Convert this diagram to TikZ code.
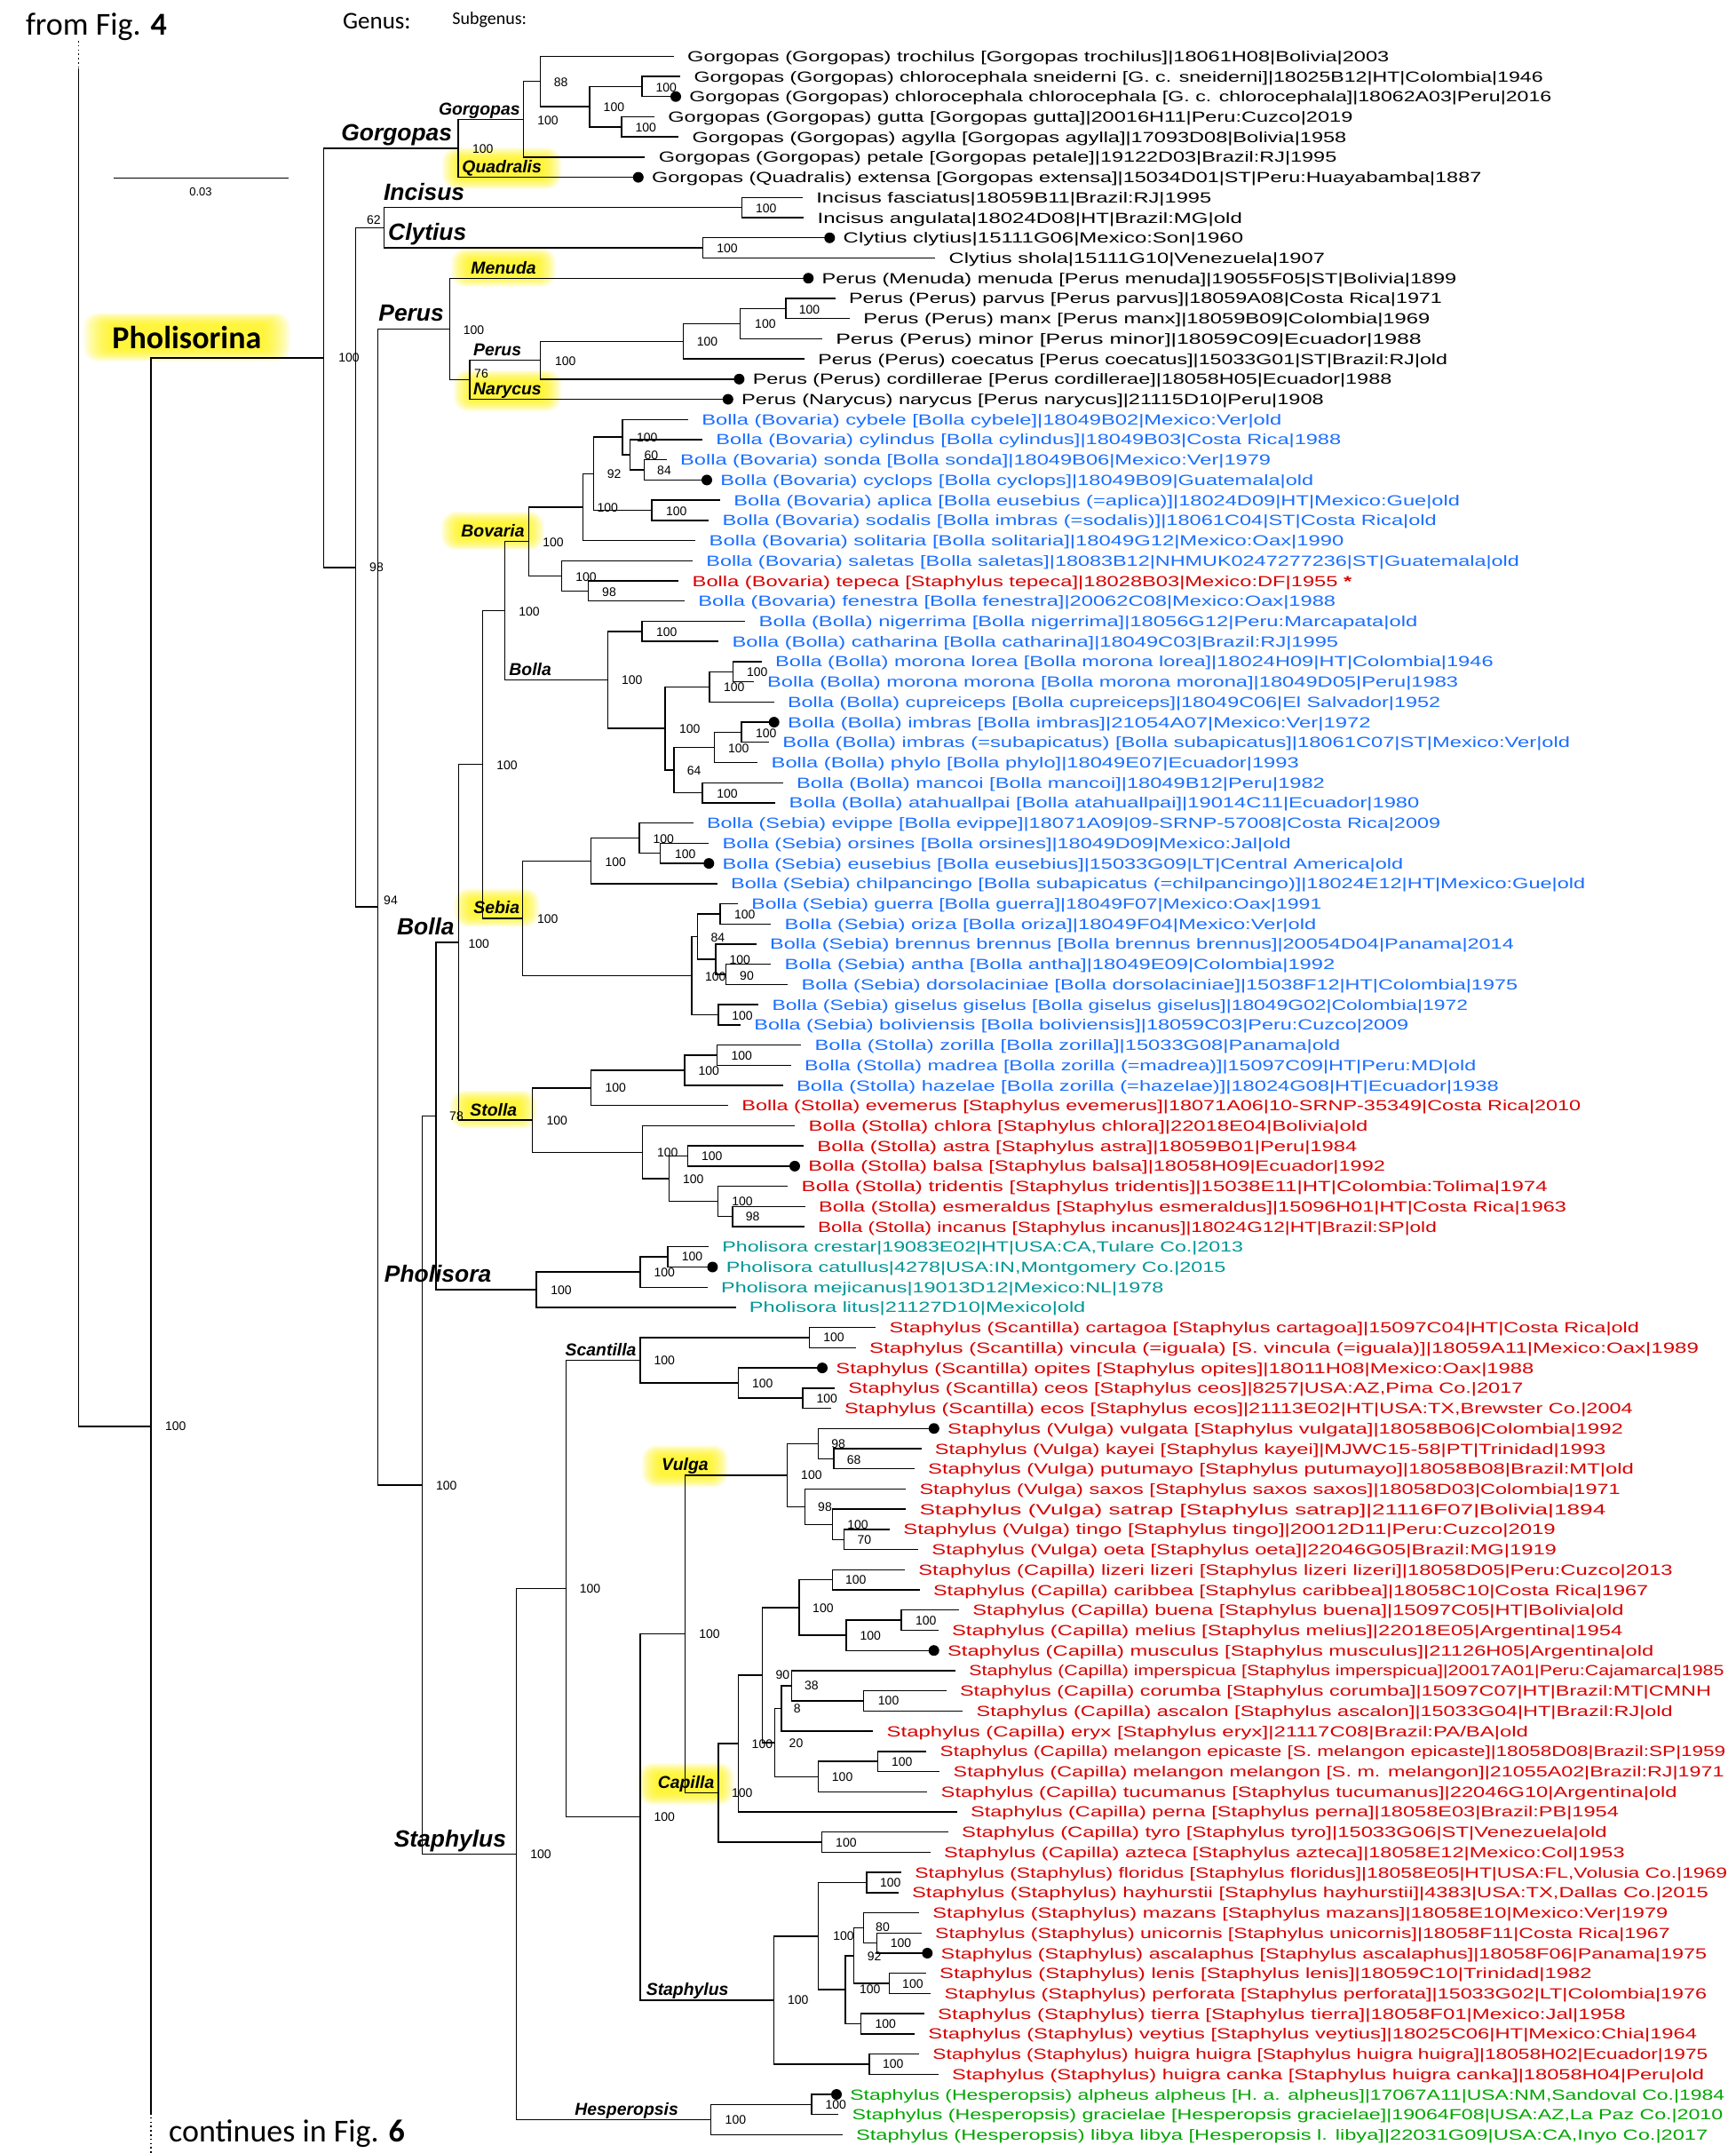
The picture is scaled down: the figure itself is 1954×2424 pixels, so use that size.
\documentclass[tikz,border=0pt]{standalone}
\usepackage{graphicx}
\usepackage{fontspec}
\setmainfont{Liberation Sans}
\newfontfamily\tipfont{Liberation Sans}
\newfontfamily\calfont{Carlito}
\usetikzlibrary{calc}
\pgfdeclarelayer{bg}
\pgfsetlayers{bg,main}
\definecolor{tblue}{RGB}{25,110,255}
\definecolor{tred}{RGB}{215,0,0}
\definecolor{tteal}{RGB}{0,150,150}
\definecolor{tgreen}{RGB}{0,165,0}
\newlength\tw
% #1 index, #2 branch end x, #3 colour, #4 right end of text, #5 text
\newcommand\tipL[5]{\pgfmathsetmacro\tyy{63.3+(#1-1)*22.72}%
  \coordinate (t#1) at (#2,\tyy);
  \node[tiplab,text=#3] (l#1) at ([xshift=7.5pt,yshift=-3pt]t#1) {\settowidth\tw{#5}\pgfmathsetmacro\tsc{((#4)-(#2)-15)*0.5/\tw}\scalebox{\tsc}[1]{#5}};}
\newcommand\tipD[5]{\tipL{#1}{#2}{#3}{#4}{#5}\fill (t#1) circle (3pt);}
\newcommand\inode[6]{\pgfmathsetmacro\tyy{63.3+(#3-1)*22.72}%
  \coordinate (#1) at (#2,\tyy);
  \node[supp] (s#1) at (#5,#6) {#4};}
\newcommand\glowbox[3]{\begin{pgfonlayer}{bg}\foreach \ii in {1,...,16}{%
  \fill[yellow,opacity=0.085,rounded corners=\ii*#3/16+1pt] ([xshift=-\ii*#2/16,yshift=-\ii*#3/16]#1.south west) rectangle ([xshift=\ii*#2/16,yshift=\ii*#3/16]#1.north east);}\end{pgfonlayer}}
\begin{document}
\begin{tikzpicture}[x=0.5pt,y=-0.5pt,
  br/.style={line width=0.7pt},
  dotln/.style={line width=0.7pt,dash pattern=on 0.8pt off 1.6pt},
  tiplab/.style={anchor=base west,inner sep=0pt,font=\tipfont\fontsize{8.25}{9}\selectfont},
  supp/.style={inner sep=0pt,font=\fontsize{7}{8}\selectfont},
  genl/.style={anchor=base west,inner sep=0pt,font=\fontsize{13.2}{15}\selectfont\bfseries\itshape},
  subl/.style={anchor=base west,inner sep=0pt,font=\fontsize{9.7}{11}\selectfont\bfseries\itshape}]
\useasboundingbox (0,0) rectangle (1954,2424);
% ---------------- tips ----------------
\tipL{1}{758.8}{black}{1564}{Gorgopas (Gorgopas) trochilus [Gorgopas trochilus]|18061H08|Bolivia|2003}
\tipL{2}{766.3}{black}{1737.4}{Gorgopas (Gorgopas) chlorocephala sneiderni [G. c. sneiderni]|18025B12|HT|Colombia|1946}
\tipD{3}{761}{black}{1747}{Gorgopas (Gorgopas) chlorocephala chlorocephala [G. c. chlorocephala]|18062A03|Peru|2016}
\tipL{4}{737}{black}{1523}{Gorgopas (Gorgopas) gutta [Gorgopas gutta]|20016H11|Peru:Cuzco|2019}
\tipL{5}{764.2}{black}{1516}{Gorgopas (Gorgopas) agylla [Gorgopas agylla]|17093D08|Bolivia|1958}
\tipL{6}{726.4}{black}{1505}{Gorgopas (Gorgopas) petale [Gorgopas petale]|19122D03|Brazil:RJ|1995}
\tipD{7}{718.8}{black}{1668}{Gorgopas (Quadralis) extensa [Gorgopas extensa]|15034D01|ST|Peru:Huayabamba|1887}
\tipL{8}{904}{black}{1363.8}{Incisus fasciatus|18059B11|Brazil:RJ|1995}
\tipL{9}{905.2}{black}{1398.5}{Incisus angulata|18024D08|HT|Brazil:MG|old}
\tipD{10}{934.3}{black}{1399.7}{Clytius clytius|15111G06|Mexico:Son|1960}
\tipL{11}{1053.3}{black}{1491.6}{Clytius shola|15111G10|Venezuela|1907}
\tipD{12}{910.3}{black}{1640}{Perus (Menuda) menuda [Perus menuda]|19055F05|ST|Bolivia|1899}
\tipL{13}{940.6}{black}{1623.6}{Perus (Perus) parvus [Perus parvus]|18059A08|Costa Rica|1971}
\tipL{14}{957}{black}{1610}{Perus (Perus) manx [Perus manx]|18059B09|Colombia|1969}
\tipL{15}{925.9}{black}{1600.5}{Perus (Perus) minor [Perus minor]|18059C09|Ecuador|1988}
\tipL{16}{906}{black}{1629.7}{Perus (Perus) coecatus [Perus coecatus]|15033G01|ST|Brazil:RJ|old}
\tipD{17}{832.4}{black}{1567}{Perus (Perus) cordillerae [Perus cordillerae]|18058H05|Ecuador|1988}
\tipD{18}{819.8}{black}{1490.4}{Perus (Narycus) narycus [Perus narycus]|21115D10|Peru|1908}
\tipL{19}{775}{tblue}{1443}{Bolla (Bovaria) cybele [Bolla cybele]|18049B02|Mexico:Ver|old}
\tipL{20}{791}{tblue}{1509.9}{Bolla (Bovaria) cylindus [Bolla cylindus]|18049B03|Costa Rica|1988}
\tipL{21}{750.7}{tblue}{1430.8}{Bolla (Bovaria) sonda [Bolla sonda]|18049B06|Mexico:Ver|1979}
\tipD{22}{796}{tblue}{1478.8}{Bolla (Bovaria) cyclops [Bolla cyclops]|18049B09|Guatemala|old}
\tipL{23}{811}{tblue}{1643.7}{Bolla (Bovaria) aplica [Bolla eusebius (=aplica)]|18024D09|HT|Mexico:Gue|old}
\tipL{24}{798.3}{tblue}{1617.5}{Bolla (Bovaria) sodalis [Bolla imbras (=sodalis)]|18061C04|ST|Costa Rica|old}
\tipL{25}{783.3}{tblue}{1513}{Bolla (Bovaria) solitaria [Bolla solitaria]|18049G12|Mexico:Oax|1990}
\tipL{26}{780}{tblue}{1710.6}{Bolla (Bovaria) saletas [Bolla saletas]|18083B12|NHMUK0247277236|ST|Guatemala|old}
\tipL{27}{764.3}{tred}{1522}{Bolla (Bovaria) tepeca [Staphylus tepeca]|18028B03|Mexico:DF|1955 {\bfseries *}}
\tipL{28}{771}{tblue}{1503.8}{Bolla (Bovaria) fenestra [Bolla fenestra]|20062C08|Mexico:Oax|1988}
\tipL{29}{839.3}{tblue}{1596}{Bolla (Bolla) nigerrima [Bolla nigerrima]|18056G12|Peru:Marcapata|old}
\tipL{30}{809.3}{tblue}{1506.8}{Bolla (Bolla) catharina [Bolla catharina]|18049C03|Brazil:RJ|1995}
\tipL{31}{857.7}{tblue}{1681.4}{Bolla (Bolla) morona lorea [Bolla morona lorea]|18024H09|HT|Colombia|1946}
\tipL{32}{848.7}{tblue}{1641.9}{Bolla (Bolla) morona morona [Bolla morona morona]|18049D05|Peru|1983}
\tipL{33}{871.7}{tblue}{1621.8}{Bolla (Bolla) cupreiceps [Bolla cupreiceps]|18049C06|El Salvador|1952}
\tipD{34}{871.7}{tblue}{1543.3}{Bolla (Bolla) imbras [Bolla imbras]|21054A07|Mexico:Ver|1972}
\tipL{35}{866}{tblue}{1767.8}{Bolla (Bolla) imbras (=subapicatus) [Bolla subapicatus]|18061C07|ST|Mexico:Ver|old}
\tipL{36}{853.3}{tblue}{1462.4}{Bolla (Bolla) phylo [Bolla phylo]|18049E07|Ecuador|1993}
\tipL{37}{881.7}{tblue}{1491.6}{Bolla (Bolla) mancoi [Bolla mancoi]|18049B12|Peru|1982}
\tipL{38}{873.3}{tblue}{1598}{Bolla (Bolla) atahuallpai [Bolla atahuallpai]|19014C11|Ecuador|1980}
\tipL{39}{780.7}{tblue}{1621.8}{Bolla (Sebia) evippe [Bolla evippe]|18071A09|09-SRNP-57008|Costa Rica|2009}
\tipL{40}{798.3}{tblue}{1453.3}{Bolla (Sebia) orsines [Bolla orsines]|18049D09|Mexico:Jal|old}
\tipD{41}{798.3}{tblue}{1579.8}{Bolla (Sebia) eusebius [Bolla eusebius]|15033G09|LT|Central America|old}
\tipL{42}{807.7}{tblue}{1784.9}{Bolla (Sebia) chilpancingo [Bolla subapicatus (=chilpancingo)]|18024E12|HT|Mexico:Gue|old}
\tipL{43}{831}{tblue}{1488}{Bolla (Sebia) guerra [Bolla guerra]|18049F07|Mexico:Oax|1991}
\tipL{44}{868.3}{tblue}{1481.9}{Bolla (Sebia) oriza [Bolla oriza]|18049F04|Mexico:Ver|old}
\tipL{45}{851.7}{tblue}{1704.6}{Bolla (Sebia) brennus brennus [Bolla brennus brennus]|20054D04|Panama|2014}
\tipL{46}{868.3}{tblue}{1503}{Bolla (Sebia) antha [Bolla antha]|18049E09|Colombia|1992}
\tipL{47}{887.3}{tblue}{1708.8}{Bolla (Sebia) dorsolaciniae [Bolla dorsolaciniae]|15038F12|HT|Colombia|1975}
\tipL{48}{854.3}{tblue}{1652.8}{Bolla (Sebia) giselus giselus [Bolla giselus giselus]|18049G02|Colombia|1972}
\tipL{49}{834}{tblue}{1586}{Bolla (Sebia) boliviensis [Bolla boliviensis]|18059C03|Peru:Cuzco|2009}
\tipL{50}{902.3}{tblue}{1509}{Bolla (Stolla) zorilla [Bolla zorilla]|15033G08|Panama|old}
\tipL{51}{890.7}{tblue}{1662}{Bolla (Stolla) madrea [Bolla zorilla (=madrea)]|15097C09|HT|Peru:MD|old}
\tipL{52}{881.7}{tblue}{1687.5}{Bolla (Stolla) hazelae [Bolla zorilla (=hazelae)]|18024G08|HT|Ecuador|1938}
\tipL{53}{820}{tred}{1780}{Bolla (Stolla) evemerus [Staphylus evemerus]|18071A06|10-SRNP-35349|Costa Rica|2010}
\tipL{54}{895.3}{tred}{1540}{Bolla (Stolla) chlora [Staphylus chlora]|22018E04|Bolivia|old}
\tipL{55}{905}{tred}{1528}{Bolla (Stolla) astra [Staphylus astra]|18059B01|Peru|1984}
\tipD{56}{895}{tred}{1559.7}{Bolla (Stolla) balsa [Staphylus balsa]|18058H09|Ecuador|1992}
\tipL{57}{887.3}{tred}{1742.3}{Bolla (Stolla) tridentis [Staphylus tridentis]|15038E11|HT|Colombia:Tolima|1974}
\tipL{58}{906.7}{tred}{1763.6}{Bolla (Stolla) esmeraldus [Staphylus esmeraldus]|15096H01|HT|Costa Rica|1963}
\tipL{59}{905.7}{tred}{1617.5}{Bolla (Stolla) incanus [Staphylus incanus]|18024G12|HT|Brazil:SP|old}
\tipL{60}{798}{tteal}{1399.7}{Pholisora crestar|19083E02|HT|USA:CA,Tulare Co.|2013}
\tipD{61}{802.4}{tteal}{1380}{Pholisora catullus|4278|USA:IN,Montgomery Co.|2015}
\tipL{62}{796.8}{tteal}{1310}{Pholisora mejicanus|19013D12|Mexico:NL|1978}
\tipL{63}{828.5}{tteal}{1222}{Pholisora litus|21127D10|Mexico|old}
\tipL{64}{986.3}{tred}{1845.7}{Staphylus (Scantilla) cartagoa [Staphylus cartagoa]|15097C04|HT|Costa Rica|old}
\tipL{65}{963.7}{tred}{1912.6}{Staphylus (Scantilla) vincula (=iguala) [S. vincula (=iguala)]|18059A11|Mexico:Oax|1989}
\tipD{66}{926}{tred}{1727}{Staphylus (Scantilla) opites [Staphylus opites]|18011H08|Mexico:Oax|1988}
\tipL{67}{939.9}{tred}{1715}{Staphylus (Scantilla) ceos [Staphylus ceos]|8257|USA:AZ,Pima Co.|2017}
\tipL{68}{935.6}{tred}{1838.4}{Staphylus (Scantilla) ecos [Staphylus ecos]|21113E02|HT|USA:TX,Brewster Co.|2004}
\tipD{69}{1051.8}{tred}{1827.5}{Staphylus (Vulga) vulgata [Staphylus vulgata]|18058B06|Colombia|1992}
\tipL{70}{1037.5}{tred}{1808}{Staphylus (Vulga) kayei [Staphylus kayei]|MJWC15-58|PT|Trinidad|1993}
\tipL{71}{1029.7}{tred}{1839.6}{Staphylus (Vulga) putumayo [Staphylus putumayo]|18058B08|Brazil:MT|old}
\tipL{72}{1020.1}{tred}{1824.4}{Staphylus (Vulga) saxos [Staphylus saxos saxos]|18058D03|Colombia|1971}
\tipL{73}{1020.1}{tred}{1808}{Staphylus (Vulga) satrap [Staphylus satrap]|21116F07|Bolivia|1894}
\tipL{74}{1001.9}{tred}{1751.4}{Staphylus (Vulga) tingo [Staphylus tingo]|20012D11|Peru:Cuzco|2019}
\tipL{75}{1034}{tred}{1752.6}{Staphylus (Vulga) oeta [Staphylus oeta]|22046G05|Brazil:MG|1919}
\tipL{76}{1019}{tred}{1883.4}{Staphylus (Capilla) lizeri lizeri [Staphylus lizeri lizeri]|18058D05|Peru:Cuzco|2013}
\tipL{77}{1035.7}{tred}{1856}{Staphylus (Capilla) caribbea [Staphylus caribbea]|18058C10|Costa Rica|1967}
\tipL{78}{1080}{tred}{1828.3}{Staphylus (Capilla) buena [Staphylus buena]|15097C05|HT|Bolivia|old}
\tipL{79}{1056.7}{tred}{1827}{Staphylus (Capilla) melius [Staphylus melius]|22018E05|Argentina|1954}
\tipD{80}{1051.7}{tred}{1862}{Staphylus (Capilla) musculus [Staphylus musculus]|21126H05|Argentina|old}
\tipL{81}{1076}{tred}{1941.2}{Staphylus (Capilla) imperspicua [Staphylus imperspicua]|20017A01|Peru:Cajamarca|1985}
\tipL{82}{1065.7}{tred}{1926.6}{Staphylus (Capilla) corumba [Staphylus corumba]|15097C07|HT|Brazil:MT|CMNH}
\tipL{83}{1084.3}{tred}{1883.4}{Staphylus (Capilla) ascalon [Staphylus ascalon]|15033G04|HT|Brazil:RJ|old}
\tipL{84}{983.3}{tred}{1720.7}{Staphylus (Capilla) eryx [Staphylus eryx]|21117C08|Brazil:PA/BA|old}
\tipL{85}{1043.3}{tred}{1943}{Staphylus (Capilla) melangon epicaste [S. melangon epicaste]|18058D08|Brazil:SP|1959}
\tipL{86}{1058.3}{tred}{1941.2}{Staphylus (Capilla) melangon melangon [S. m. melangon]|21055A02|Brazil:RJ|1971}
\tipL{87}{1044.3}{tred}{1888.3}{Staphylus (Capilla) tucumanus [Staphylus tucumanus]|22046G10|Argentina|old}
\tipL{88}{1077.7}{tred}{1822.6}{Staphylus (Capilla) perna [Staphylus perna]|18058E03|Brazil:PB|1954}
\tipL{89}{1067.7}{tred}{1809.2}{Staphylus (Capilla) tyro [Staphylus tyro]|15033G06|ST|Venezuela|old}
\tipL{90}{1047.7}{tred}{1829.3}{Staphylus (Capilla) azteca [Staphylus azteca]|18058E12|Mexico:Col|1953}
\tipL{91}{1015}{tred}{1944.9}{Staphylus (Staphylus) floridus [Staphylus floridus]|18058E05|HT|USA:FL,Volusia Co.|1969}
\tipL{92}{1011.7}{tred}{1923.6}{Staphylus (Staphylus) hayhurstii [Staphylus hayhurstii]|4383|USA:TX,Dallas Co.|2015}
\tipL{93}{1035}{tred}{1878}{Staphylus (Staphylus) mazans [Staphylus mazans]|18058E10|Mexico:Ver|1979}
\tipL{94}{1037.7}{tred}{1880.4}{Staphylus (Staphylus) unicornis [Staphylus unicornis]|18058F11|Costa Rica|1967}
\tipD{95}{1044.3}{tred}{1921.8}{Staphylus (Staphylus) ascalaphus [Staphylus ascalaphus]|18058F06|Panama|1975}
\tipL{96}{1042.7}{tred}{1792.2}{Staphylus (Staphylus) lenis [Staphylus lenis]|18059C10|Trinidad|1982}
\tipL{97}{1048.3}{tred}{1921.8}{Staphylus (Staphylus) perforata [Staphylus perforata]|15033G02|LT|Colombia|1976}
\tipL{98}{1040.7}{tred}{1830.5}{Staphylus (Staphylus) tierra [Staphylus tierra]|18058F01|Mexico:Jal|1958}
\tipL{99}{1030}{tred}{1910.8}{Staphylus (Staphylus) veytius [Staphylus veytius]|18025C06|HT|Mexico:Chia|1964}
\tipL{100}{1035}{tred}{1923}{Staphylus (Staphylus) huigra huigra [Staphylus huigra huigra]|18058H02|Ecuador|1975}
\tipL{101}{1056.7}{tred}{1918.7}{Staphylus (Staphylus) huigra canka [Staphylus huigra canka]|18058H04|Peru|old}
\tipD{102}{942}{tgreen}{1941.8}{Staphylus (Hesperopsis) alpheus alpheus [H. a. alpheus]|17067A11|USA:NM,Sandoval Co.|1984}
\tipL{103}{944.2}{tgreen}{1940}{Staphylus (Hesperopsis) gracielae [Hesperopsis gracielae]|19064F08|USA:AZ,La Paz Co.|2010}
\tipL{104}{948.6}{tgreen}{1923}{Staphylus (Hesperopsis) libya libya [Hesperopsis l. libya]|22031G09|USA:CA,Inyo Co.|2017}
% ---------------- internal nodes ----------------
\inode{G3}{723}{2.5}{100}{750.3}{99}
\inode{G4}{699.8}{4.5}{100}{727.2}{144}
\inode{G2}{664}{3.5}{100}{691.4}{121}
\inode{G1}{608.5}{2.25}{88}{631.7}{92.7}
\inode{Gs}{589.6}{4.125}{100}{617}{135.7}
\inode{Gg}{516}{5.5625}{100}{543.7}{167.7}
\inode{I1}{835.4}{8.5}{100}{862.7}{234.3}
\inode{C1}{791.6}{10.5}{100}{819}{280}
\inode{IC}{432.6}{9.5}{62}{420.8}{247.3}
\inode{P5}{885}{13.5}{100}{911.5}{348.3}
\inode{P4}{833.7}{14.25}{100}{861.9}{365}
\inode{P3}{769.3}{15.125}{100}{796.6}{385}
\inode{P2}{608.5}{16.0625}{100}{636.7}{406.7}
\inode{P1}{529}{17.03125}{76}{542}{420.7}
\inode{Pg}{506.2}{14.516}{100}{533.6}{371.7}
\inode{B6}{725.3}{21.5}{84}{748}{530}
\inode{B5}{709.3}{20.75}{60}{733.3}{512.7}
\inode{B4}{701}{19.875}{100}{728.7}{492.7}
\inode{B7}{734}{23.5}{100}{761.7}{575.7}
\inode{B3}{668.3}{21.6875}{92}{691.7}{534}
\inode{B2}{656.7}{23.34375}{100}{684.3}{571.7}
\inode{B9}{662.7}{27.5}{98}{686}{666.7}
\inode{B8}{632.7}{26.75}{100}{660}{649.3}
\inode{Bv}{595.3}{25.047}{100}{623}{610.7}
\inode{L4}{825.7}{31.5}{100}{852.7}{756.7}
\inode{L3}{799}{32.25}{100}{826.7}{774}
\inode{L7}{835}{34.5}{100}{862.7}{825.7}
\inode{L6}{804.3}{35.25}{100}{831.7}{842.3}
\inode{L8}{791}{37.5}{100}{819}{893.3}
\inode{L5}{759}{36.375}{64}{781.7}{868}
\inode{L2}{749}{34.3125}{100}{776.7}{821}
\inode{L1}{723}{29.5}{100}{750.7}{711.7}
\inode{Ls}{684.3}{31.906}{100}{711.7}{766}
\inode{BB}{568.3}{28.477}{100}{596}{688.7}
\inode{S4}{743.7}{40.5}{100}{771.7}{961.7}
\inode{S3}{720}{39.75}{100}{747.3}{944.3}
\inode{S2}{665.7}{40.875}{100}{693.3}{970.3}
\inode{S7}{811}{43.5}{100}{838.7}{1030}
\inode{S9}{817.7}{46.5}{90}{841}{1098.3}
\inode{S8}{806}{45.75}{100}{833.3}{1081}
\inode{S6}{785.7}{44.625}{84}{808.3}{1055.7}
\inode{S10}{809}{48.5}{100}{836}{1143.7}
\inode{S5}{779}{46.5625}{100}{805.7}{1099.3}
\inode{Sb}{588.7}{43.719}{100}{616.7}{1035}
\inode{BBS}{543.7}{36.098}{100}{571}{861.7}
\inode{T3}{807.7}{50.5}{100}{835.3}{1189}
\inode{T2}{771}{51.25}{100}{798.3}{1206}
\inode{T1}{665.7}{52.125}{100}{693.3}{1225}
\inode{T6}{774.3}{55.5}{100}{801.7}{1301.3}
\inode{T8}{825}{58.5}{98}{847.7}{1370}
\inode{T7}{808.3}{57.75}{100}{836}{1352.7}
\inode{T5}{753.3}{56.625}{100}{780.7}{1327.3}
\inode{T4}{723.7}{55.3125}{100}{751.7}{1297.3}
\inode{St}{599.3}{53.719}{100}{627.3}{1261.3}
\inode{BN}{516.7}{44.9085}{100}{539.3}{1062.3}
\inode{H3}{752.1}{60.5}{100}{779.5}{1415}
\inode{H2}{721}{61.25}{100}{748.2}{1432.3}
\inode{Ph}{603.8}{62.125}{100}{632}{1452.3}
\inode{BG}{491}{53.517}{78}{514}{1256.7}
\inode{Sc2}{911.7}{64.5}{100}{939}{1506}
\inode{Sc4}{903.9}{67.5}{100}{931.2}{1574.3}
\inode{Sc3}{831.5}{66.75}{100}{858.8}{1557.3}
\inode{Sc}{720.9}{65.625}{100}{748.2}{1532}
\inode{V3}{939}{70.5}{68}{961.6}{1643.3}
\inode{V2}{921.2}{69.75}{98}{944.2}{1625.7}
\inode{V6}{950.7}{74.5}{70}{973.3}{1733.3}
\inode{V5}{937.7}{73.75}{100}{966}{1716.7}
\inode{V4}{906.5}{72.875}{98}{929}{1696.7}
\inode{V1}{886.6}{71.3125}{100}{913.9}{1661}
\inode{A2}{937.7}{76.5}{100}{963.8}{1779}
\inode{A4}{1015}{78.5}{100}{1042.7}{1824.3}
\inode{A3}{953}{79.25}{100}{980.2}{1841.7}
\inode{A1}{900}{77.875}{100}{926.9}{1810.7}
\inode{A8}{972.4}{82.5}{100}{1000.6}{1915}
\inode{A7}{891.3}{81.75}{38}{913.9}{1897.8}
\inode{A6}{880}{82.875}{8}{897.8}{1924}
\inode{A10}{988.5}{85.5}{100}{1015.8}{1983.4}
\inode{A9}{921.3}{86.25}{100}{948.6}{2000.3}
\inode{A5}{872.7}{84.5625}{20}{896.5}{1962.5}
\inode{A0}{858.4}{81.21875}{90}{881.4}{1885.9}
\inode{AA}{831.5}{84.609}{100}{858.4}{1963.2}
\inode{A11}{925.2}{89.5}{100}{952.9}{2074.4}
\inode{Cp}{808.9}{87.055}{100}{835.8}{2018.6}
\inode{VC}{771.6}{79.18}{100}{799}{1840}
\inode{D2}{975.9}{91.5}{100}{1002.8}{2119.7}
\inode{D6}{987.6}{94.5}{100}{1014.5}{2187.7}
\inode{D5}{972.4}{93.75}{80}{994}{2170}
\inode{D7}{1001.5}{96.5}{100}{1027.9}{2233.4}
\inode{D4}{961.6}{95.125}{92}{984.6}{2202.4}
\inode{D8}{969.4}{98.5}{100}{997.2}{2279}
\inode{D3}{952}{96.8125}{100}{979.8}{2240}
\inode{D1}{921.7}{94.15625}{100}{950}{2180}
\inode{D9}{978.9}{100.5}{100}{1005.8}{2324}
\inode{Ds}{871.4}{97.328}{100}{898.7}{2252}
\inode{SV}{720.9}{88.254}{100}{748.2}{2046}
\inode{SS}{637.2}{76.94}{100}{664.5}{1789}
\inode{E2}{913.9}{102.5}{100}{941.2}{2370}
\inode{He}{800.3}{103.25}{100}{828.4}{2387}
\inode{Sg}{581.3}{90.095}{100}{609}{2087.7}
\inode{PS}{475.4}{71.81}{100}{502.8}{1672.3}
\inode{P94}{425.4}{43.16}{94}{440}{1014}
\inode{N98}{400.7}{26.33}{98}{424}{639}
\inode{NP}{364.4}{15.95}{100}{393}{403}
\coordinate (rd) at (88.5,46);
\coordinate (rt) at (88.5,77);
\coordinate (R) at (88.5,1606);
\coordinate (R2) at (170,1606);
\coordinate (rb) at (170,2379);
\coordinate (re) at (170,2424);
\node[supp] (sR2) at (197.8,1606) {100};
% ---------------- edges ----------------
\draw[br] (G1) |- (t1) (G1) |- (G2) (G2) |- (G3) (G2) |- (G4) (G3) |- (t2) (G3) |- (t3)
  (G4) |- (t4) (G4) |- (t5) (Gs) |- (G1) (Gs) |- (t6) (Gg) |- (Gs) (Gg) |- (t7);
\draw[br] (IC) |- (I1) (IC) |- (C1) (I1) |- (t8) (I1) |- (t9) (C1) |- (t10) (C1) |- (t11);
\draw[br] (Pg) |- (t12) (Pg) |- (P1) (P1) |- (P2) (P1) |- (t18) (P2) |- (P3) (P2) |- (t17)
  (P3) |- (P4) (P3) |- (t16) (P4) |- (P5) (P4) |- (t15) (P5) |- (t13) (P5) |- (t14);
\draw[br] (B4) |- (t19) (B4) |- (B5) (B5) |- (t20) (B5) |- (B6) (B6) |- (t21) (B6) |- (t22)
  (B7) |- (t23) (B7) |- (t24) (B3) |- (B4) (B3) |- (B7) (B2) |- (B3) (B2) |- (t25)
  (B9) |- (t27) (B9) |- (t28) (B8) |- (t26) (B8) |- (B9) (Bv) |- (B2) (Bv) |- (B8);
\draw[br] (L1) |- (t29) (L1) |- (t30) (L4) |- (t31) (L4) |- (t32) (L3) |- (L4) (L3) |- (t33)
  (L7) |- (t34) (L7) |- (t35) (L6) |- (L7) (L6) |- (t36) (L8) |- (t37) (L8) |- (t38)
  (L5) |- (L6) (L5) |- (L8) (L2) |- (L3) (L2) |- (L5) (Ls) |- (L1) (Ls) |- (L2)
  (BB) |- (Bv) (BB) |- (Ls);
\draw[br] (S3) |- (t39) (S3) |- (S4) (S4) |- (t40) (S4) |- (t41) (S2) |- (S3) (S2) |- (t42)
  (S7) |- (t43) (S7) |- (t44) (S9) |- (t46) (S9) |- (t47) (S8) |- (t45) (S8) |- (S9)
  (S6) |- (S7) (S6) |- (S8) (S10) |- (t48) (S10) |- (t49) (S5) |- (S6) (S5) |- (S10)
  (Sb) |- (S2) (Sb) |- (S5) (BBS) |- (BB) (BBS) |- (Sb);
\draw[br] (T3) |- (t50) (T3) |- (t51) (T2) |- (T3) (T2) |- (t52) (T1) |- (T2) (T1) |- (t53)
  (T6) |- (t55) (T6) |- (t56) (T8) |- (t58) (T8) |- (t59) (T7) |- (t57) (T7) |- (T8)
  (T5) |- (T6) (T5) |- (T7) (T4) |- (t54) (T4) |- (T5) (St) |- (T1) (St) |- (T4)
  (BN) |- (BBS) (BN) |- (St);
\draw[br] (H3) |- (t60) (H3) |- (t61) (H2) |- (H3) (H2) |- (t62) (Ph) |- (H2) (Ph) |- (t63)
  (BG) |- (BN) (BG) |- (Ph);
\draw[br] (Sc2) |- (t64) (Sc2) |- (t65) (Sc4) |- (t67) (Sc4) |- (t68) (Sc3) |- (t66) (Sc3) |- (Sc4)
  (Sc) |- (Sc2) (Sc) |- (Sc3);
\draw[br] (V2) |- (t69) (V2) |- (V3) (V3) |- (t70) (V3) |- (t71) (V6) |- (t74) (V6) |- (t75)
  (V5) |- (t73) (V5) |- (V6) (V4) |- (t72) (V4) |- (V5) (V1) |- (V2) (V1) |- (V4);
\draw[br] (A2) |- (t76) (A2) |- (t77) (A4) |- (t78) (A4) |- (t79) (A3) |- (A4) (A3) |- (t80)
  (A1) |- (A2) (A1) |- (A3) (A8) |- (t82) (A8) |- (t83) (A7) |- (t81) (A7) |- (A8)
  (A6) |- (A7) (A6) |- (t84) (A10) |- (t85) (A10) |- (t86) (A9) |- (A10) (A9) |- (t87)
  (A5) |- (A6) (A5) |- (A9) (A0) |- (A1) (A0) |- (A5) (AA) |- (A0) (AA) |- (t88)
  (A11) |- (t89) (A11) |- (t90) (Cp) |- (AA) (Cp) |- (A11) (VC) |- (V1) (VC) |- (Cp);
\draw[br] (D2) |- (t91) (D2) |- (t92) (D6) |- (t94) (D6) |- (t95) (D5) |- (t93) (D5) |- (D6)
  (D7) |- (t96) (D7) |- (t97) (D4) |- (D5) (D4) |- (D7) (D8) |- (t98) (D8) |- (t99)
  (D3) |- (D4) (D3) |- (D8) (D1) |- (D2) (D1) |- (D3) (D9) |- (t100) (D9) |- (t101)
  (Ds) |- (D1) (Ds) |- (D9) (SV) |- (VC) (SV) |- (Ds) (SS) |- (Sc) (SS) |- (SV);
\draw[br] (E2) |- (t102) (E2) |- (t103) (He) |- (E2) (He) |- (t104) (Sg) |- (SS) (Sg) |- (He)
  (PS) |- (BG) (PS) |- (Sg) (P94) |- (Pg) (P94) |- (PS) (N98) |- (IC) (N98) |- (P94)
  (NP) |- (Gg) (NP) |- (N98);
\draw[br] (rt) -- (R) -- (R2) (R2) |- (NP) (R2) -- (rb);
\draw[dotln] (rd) -- (rt) (rb) -- (re);
% ---------------- clade labels ----------------
\node[genl] (gGorgopas) at (384,158.2) {Gorgopas};
\node[genl] (gIncisus) at (431.7,225.2) {Incisus};
\node[genl] (gClytius) at (436.8,270.6) {Clytius};
\node[genl] (gPerus) at (426,361.9) {Perus};
\node[genl] (gBolla) at (446.7,1052.4) {Bolla};
\node[genl] (gPholisora) at (432.5,1443.5) {Pholisora};
\node[genl] (gStaphylus) at (443.4,2079.1) {Staphylus};
\node[subl] (sgGorgopas) at (493.6,129.3) {Gorgopas};
\node[subl] (sgQuadralis) at (520,194.6) {Quadralis};
\node[subl] (sgMenuda) at (530,308.2) {Menuda};
\node[subl] (sgPerus) at (532.8,400.5) {Perus};
\node[subl] (sgNarycus) at (532.8,444.5) {Narycus};
\node[subl] (sgBovaria) at (519,604.6) {Bovaria};
\node[subl] (sgBolla) at (573,760.5) {Bolla};
\node[subl] (sgSebia) at (533,1028.9) {Sebia};
\node[subl] (sgStolla) at (529,1256.1) {Stolla};
\node[subl] (sgScantilla) at (636.3,1526.6) {Scantilla};
\node[subl] (sgVulga) at (744.8,1655.7) {Vulga};
\node[subl] (sgCapilla) at (740.4,2013.5) {Capilla};
\node[subl] (sgStaphylus) at (727.4,2246.9) {Staphylus};
\node[subl] (sgHesperopsis) at (647,2381.4) {Hesperopsis};
\node[anchor=base west,inner sep=0pt,font=\calfont\bfseries\fontsize{18}{20}\selectfont] (pholisorina) at (126,392) {Pholisorina};
\glowbox{sgQuadralis}{11pt}{7pt}
\glowbox{sgMenuda}{11pt}{7pt}
\glowbox{sgNarycus}{11pt}{7pt}
\glowbox{sgBovaria}{11pt}{7pt}
\glowbox{sgSebia}{11pt}{7pt}
\glowbox{sgStolla}{11pt}{7pt}
\glowbox{sgVulga}{11pt}{7pt}
\glowbox{sgCapilla}{11pt}{7pt}
\glowbox{pholisorina}{16pt}{7pt}
% ---------------- header, footer, scale ----------------
\node[anchor=base west,inner sep=0pt,font=\calfont\fontsize{18}{20}\selectfont] (fromfig) at (28.6,40) {from Fig. \textbf{4}};
\node[anchor=base west,inner sep=0pt,font=\calfont\fontsize{13.5}{15}\selectfont] (genus) at (385.7,32.4) {Genus:};
\node[anchor=base west,inner sep=0pt,font=\calfont\fontsize{10}{12}\selectfont] (subgenus) at (509,27.8) {Subgenus:};
\node[anchor=base west,inner sep=0pt,font=\calfont\fontsize{18}{20}\selectfont] (contfig) at (189.7,2411.6) {continues in Fig. \textbf{6}};
\coordinate (sb1) at (128,200.6);
\coordinate (sb2) at (325,200.6);
\draw[br] (sb1) -- (sb2);
\node[inner sep=0pt,font=\fontsize{6.5}{7}\selectfont] (sbl) at (226,216) {0.03};
\end{tikzpicture}
\end{document}
